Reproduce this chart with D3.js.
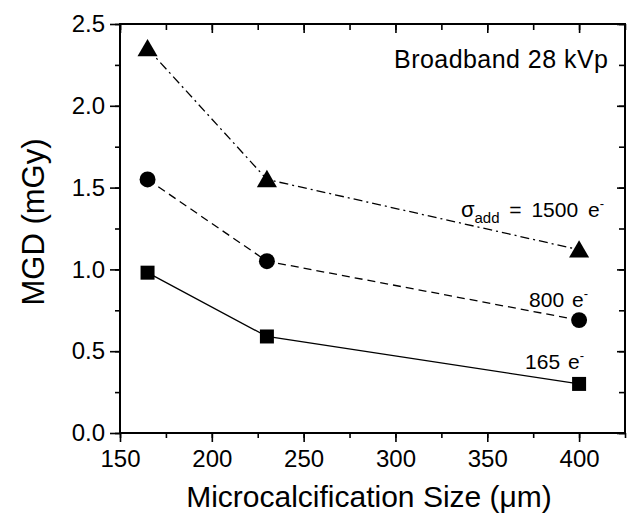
<!DOCTYPE html>
<html>
<head>
<meta charset="utf-8">
<script src="https://cdn.jsdelivr.net/npm/d3@7"></script>
<style>
  html, body { margin: 0; padding: 0; background: #fff; }
  svg { display: block; font-family: "Liberation Sans", Arial, Helvetica, sans-serif; }
</style>
</head>
<body>
<svg id="chart" width="629" height="515"></svg>
<script>
// Microcalcification size (µm)
const sizes = [165, 230, 400];
// Mean glandular dose (mGy) for each additive electronic noise level
const mgd1500 = [2.35, 1.55, 1.12];
const mgd800 = [1.55, 1.05, 0.69];
const mgd165 = [0.98, 0.59, 0.30];

const xTicks = [150, 200, 250, 300, 350, 400];
const yTicks = [0.0, 0.5, 1.0, 1.5, 2.0, 2.5];

const svg = d3.select("#chart");
const plotL = 120, plotR = 625, plotT = 24, plotB = 433;

const x = d3.scaleLinear().domain([150, 425]).range([plotL, plotR]);
const y = d3.scaleLinear().domain([0, 2.5]).range([plotB, plotT]);

const xMinor = d3.range(150, 426, 25);
const yMinor = d3.range(0, 2.51, 0.25);

// Minor ticks on all four sides
svg.append("g").attr("transform", `translate(0,${plotB})`)
  .call(d3.axisBottom(x).tickValues(xMinor).tickSize(5).tickFormat(""))
  .call(g => g.select(".domain").remove());
svg.append("g").attr("transform", `translate(0,${plotT})`)
  .call(d3.axisBottom(x).tickValues(xMinor).tickSize(6).tickFormat(""))
  .call(g => g.select(".domain").remove());
svg.append("g").attr("transform", `translate(${plotL},0)`)
  .call(d3.axisLeft(y).tickValues(yMinor).tickSize(5).tickFormat(""))
  .call(g => g.select(".domain").remove());
svg.append("g").attr("transform", `translate(${plotR},0)`)
  .call(d3.axisLeft(y).tickValues(yMinor).tickSize(6).tickFormat(""))
  .call(g => g.select(".domain").remove());

// Major ticks with labels
const xAxis = svg.append("g").attr("transform", `translate(0,${plotB})`)
  .call(d3.axisBottom(x).tickValues(xTicks).tickSize(9).tickPadding(8).tickFormat(d3.format("d")));
xAxis.select(".domain").remove();
xAxis.attr("font-family", null).attr("font-size", 24);
xAxis.selectAll("text").attr("fill", "#000");

const yAxis = svg.append("g").attr("transform", `translate(${plotL},0)`)
  .call(d3.axisLeft(y).tickValues(yTicks).tickSize(10).tickPadding(5).tickFormat(d3.format(".1f")));
yAxis.select(".domain").remove();
yAxis.attr("font-family", null).attr("font-size", 24);
yAxis.selectAll("text").attr("fill", "#000");

svg.append("g").attr("transform", `translate(0,${plotT})`)
  .call(d3.axisBottom(x).tickValues(xTicks).tickSize(9).tickFormat(""))
  .call(g => g.select(".domain").remove());
svg.append("g").attr("transform", `translate(${plotR},0)`)
  .call(d3.axisLeft(y).tickValues(yTicks).tickSize(8).tickFormat(""))
  .call(g => g.select(".domain").remove());

svg.selectAll(".tick line").attr("stroke", "#000").attr("stroke-width", 1.6);

// Plot frame
svg.append("rect")
  .attr("x", plotL).attr("y", plotT)
  .attr("width", plotR - plotL).attr("height", plotB - plotT)
  .attr("fill", "none").attr("stroke", "#000").attr("stroke-width", 2);

// Series lines and markers
const line = d3.line().x((d, i) => x(sizes[i])).y(d => y(d));
const series = [
  { values: mgd1500, dash: "9,4,2,4", shape: d3.symbolTriangle, area: 175, dy: 2 },
  { values: mgd800, dash: "8,5", shape: d3.symbolCircle, area: 200, dy: 0 },
  { values: mgd165, dash: null, shape: d3.symbolSquare, area: 196, dy: 0 }
];

series.forEach(s => {
  svg.append("path")
    .attr("d", line(s.values))
    .attr("fill", "none")
    .attr("stroke", "#000")
    .attr("stroke-width", 1.3)
    .attr("stroke-dasharray", s.dash);
  svg.selectAll(null).data(s.values).enter().append("path")
    .attr("transform", (d, i) => `translate(${x(sizes[i])},${y(d) + s.dy})`)
    .attr("d", d3.symbol().type(s.shape).size(s.area))
    .attr("fill", "#000");
});

// Annotations
svg.append("text")
  .attr("x", 394).attr("y", 68)
  .attr("font-size", 25)
  .attr("textLength", 214).attr("lengthAdjust", "spacing")
  .text("Broadband 28 kVp");

// Noise labels, right-aligned, with subscript / superscript parts
function noiseLabel(xr, yb, main, withSigma, gap) {
  const t = svg.append("text").attr("x", xr).attr("y", yb)
    .attr("text-anchor", "end").attr("font-size", 21)
    .attr("word-spacing", gap);
  if (withSigma) {
    t.append("tspan").attr("font-size", 22).text("σ");
    t.append("tspan").attr("dy", 6).attr("font-size", 15).text("add");
    t.append("tspan").attr("dy", -6).text(" = " + main + " e");
  } else {
    t.append("tspan").text(main + " e");
  }
  t.append("tspan").attr("dy", -9).attr("font-size", 13).text("-");
}
noiseLabel(604, 217, "1500", true, 4);
noiseLabel(588, 307, "800", false, 2);
noiseLabel(584, 369, "165", false, 2);

// Axis titles
svg.append("text")
  .attr("x", 369).attr("y", 507)
  .attr("text-anchor", "middle").attr("font-size", 30)
  .text("Microcalcification Size (μm)");

svg.append("text")
  .attr("transform", "translate(44,222) rotate(-90)")
  .attr("text-anchor", "middle").attr("font-size", 31)
  .text("MGD (mGy)");
</script>
</body>
</html>
